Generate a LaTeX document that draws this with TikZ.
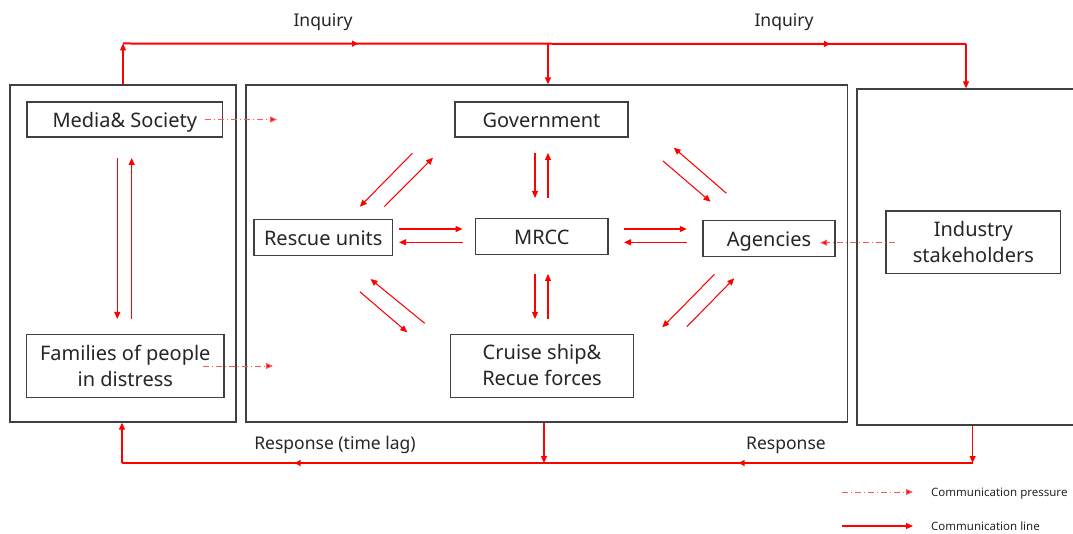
\documentclass[tikz,border=0pt]{standalone}
\usepackage{fontspec}
\setmainfont{Noto Sans}
\usetikzlibrary{arrows.meta,decorations.markings,calc}
\definecolor{txt}{HTML}{262626}
\definecolor{bord}{HTML}{404040}
\definecolor{lnred}{HTML}{FF0000}
\definecolor{dashred}{HTML}{FF5A5A}
\begin{document}
\begin{tikzpicture}[x=1pt,y=-1pt,
  box/.style={draw=bord,line width=1.2pt,inner sep=0pt,text=txt,font=\fontsize{20}{26}\selectfont,align=center,text height=19pt,text depth=3pt},
  twobox/.style={box,text height=45pt,text depth=5pt},
  outerbox/.style={draw=bord,line width=1.3pt,inner sep=0pt},
  lbl/.style={text=txt,inner sep=0pt,anchor=base,font=\fontsize{17.5}{20}\selectfont},
  legtxt/.style={text=txt,inner sep=0pt,anchor=base west,font=\fontsize{11.5}{13}\selectfont},
  arr/.style={draw=lnred,line width=1.05pt,-{Triangle[length=7pt,width=6pt]}},
  vline/.style={draw=lnred,line width=1.1pt,-{Triangle[length=7pt,width=6pt]}},
  dasharr/.style={draw=dashred,line width=1pt,dash pattern=on 6pt off 3pt on 1pt off 3pt,-{Triangle[length=7pt,width=6pt,fill=lnred]}},
  bigline/.style={draw=lnred,color=lnred,line width=2pt},
]
\useasboundingbox (0,0) rectangle (1073,534);
\fill[white] (0,0) rectangle (1073,534);

% outer boxes
\node[outerbox,minimum width=226pt,minimum height=337pt] (leftbox) at (123,253.5) {};
\node[outerbox,minimum width=601.5pt,minimum height=337pt] (midbox) at (546.75,253.5) {};
\node[outerbox,minimum width=228pt,minimum height=336pt] (rightbox) at (971,257) {};

% inner boxes
\node[box,minimum width=195.5pt,minimum height=35pt] (media) at (124.75,119.5) {Media\& Society};
\node[twobox,minimum width=197.3pt,minimum height=62.6pt] (families) at (125.3,366) {Families of people\\in distress};
\node[box,minimum width=173pt,minimum height=35pt] (gov) at (541.5,119.5) {Government};
\node[box,minimum width=138.5pt,minimum height=36.4pt] (rescue) at (323.25,237.5) {Rescue units};
\node[box,minimum width=132.3pt,minimum height=36pt] (mrcc) at (541.85,236.3) {MRCC};
\node[box,minimum width=132pt,minimum height=36pt] (agencies) at (769,238.3) {Agencies};
\node[twobox,minimum width=182.6pt,minimum height=63pt] (cruise) at (542,365.8) {Cruise ship\&\\Recue forces};
\node[twobox,minimum width=174.7pt,minimum height=62.3pt] (industry) at (973.35,242.15) {Industry\\stakeholders};

% labels
\node[lbl] (inq1) at (323,27) {Inquiry};
\node[lbl] (inq2) at (784,27) {Inquiry};
\node[lbl] (resp1) at (335,449) {Response (time lag)};
\node[lbl] (resp2) at (786,449) {Response};

% named points of the free-standing arrows
\foreach \n/\x/\y in {
  r1s/399/229, r1e/462.6/229, r2s/462.6/242.3, r2e/399/242.3,
  a1s/624/229, a1e/686.8/229, a2s/687/242.3, a2e/624/242.3,
  g1s/535/153, g1e/535/198, g2s/548/198, g2e/548/153,
  c1s/535/274, c1e/535/319, c2s/548/319, c2e/548/274,
  rg1s/412.4/153.3, rg1e/359.8/206.7, rg2s/384.3/206.7, rg2e/433/157.7,
  ga1s/726.4/193.3, ga1e/673.8/147.7, ga2s/663/161, ga2e/710.5/201.7,
  rc1s/424.7/323.3, rc1e/370.5/279, rc2s/359.8/291.7, rc2e/407.3/332.3,
  ac1s/714.5/274.3, ac1e/662.3/327.3, ac2s/686.8/326.7, ac2e/734.3/278.3,
  l1s/117.3/158, l1e/117.3/319, l2s/131.7/319, l2e/131.7/158,
  d1s/205/119.5, d1e/277/119.5, d2s/203/366, d2e/273/366, d3s/895/242.7, d3e/820/242.7,
  topL/123/43.5, topG/548/43.5, topR/966/44, botL/122/463, botM/544/463, botR/972.6/463,
  lg1s/842/492, lg1e/913/492, lg2s/842/526, lg2e/913/526}
  \coordinate (\n) at (\x,\y);

% communication lines inside
\foreach \s/\e in {r1s/r1e,r2s/r2e,a1s/a1e,a2s/a2e,g1s/g1e,g2s/g2e,c1s/c1e,c2s/c2e,
  rg1s/rg1e,rg2s/rg2e,ga1s/ga1e,ga2s/ga2e,rc1s/rc1e,rc2s/rc2e,ac1s/ac1e,ac2s/ac2e,l1s/l1e,l2s/l2e}
  \draw[arr] (\s) -- (\e);

% communication pressure
\draw[dasharr] (d1s) -- (d1e);
\draw[dasharr] (d2s) -- (d2e);
\draw[dasharr] (d3s) -- (d3e);

% inquiry loop
\draw[vline] (leftbox.north -| topL) -- (topL);
\draw[bigline,postaction={decorate},decoration={markings,
   mark=at position 235pt with {\arrow{Triangle[length=6pt,width=6pt]}},
   mark=at position 707pt with {\arrow{Triangle[length=6pt,width=6pt]}}}] (topL) -- (topR);
\draw[vline] (topG) -- (topG |- midbox.north);
\draw[vline] (topR) -- (topR |- rightbox.north);

% response loop
\draw[vline] (rightbox.south -| botR) -- (botR);
\draw[vline] (midbox.south -| botM) -- (botM);
\draw[bigline,postaction={decorate},decoration={markings,
   mark=at position 234pt with {\arrow{Triangle[length=6pt,width=6pt]}},
   mark=at position 678pt with {\arrow{Triangle[length=6pt,width=6pt]}}}] (botR) -- (botL);
\draw[vline] (botL) -- (botL |- leftbox.south);

% legend
\draw[dasharr] (lg1s) -- (lg1e);
\node[legtxt] (leg1) at (931,496.5) {Communication pressure};
\draw[arr] (lg2s) -- (lg2e);
\node[legtxt] (leg2) at (931,530) {Communication line};
\end{tikzpicture}
\end{document}
